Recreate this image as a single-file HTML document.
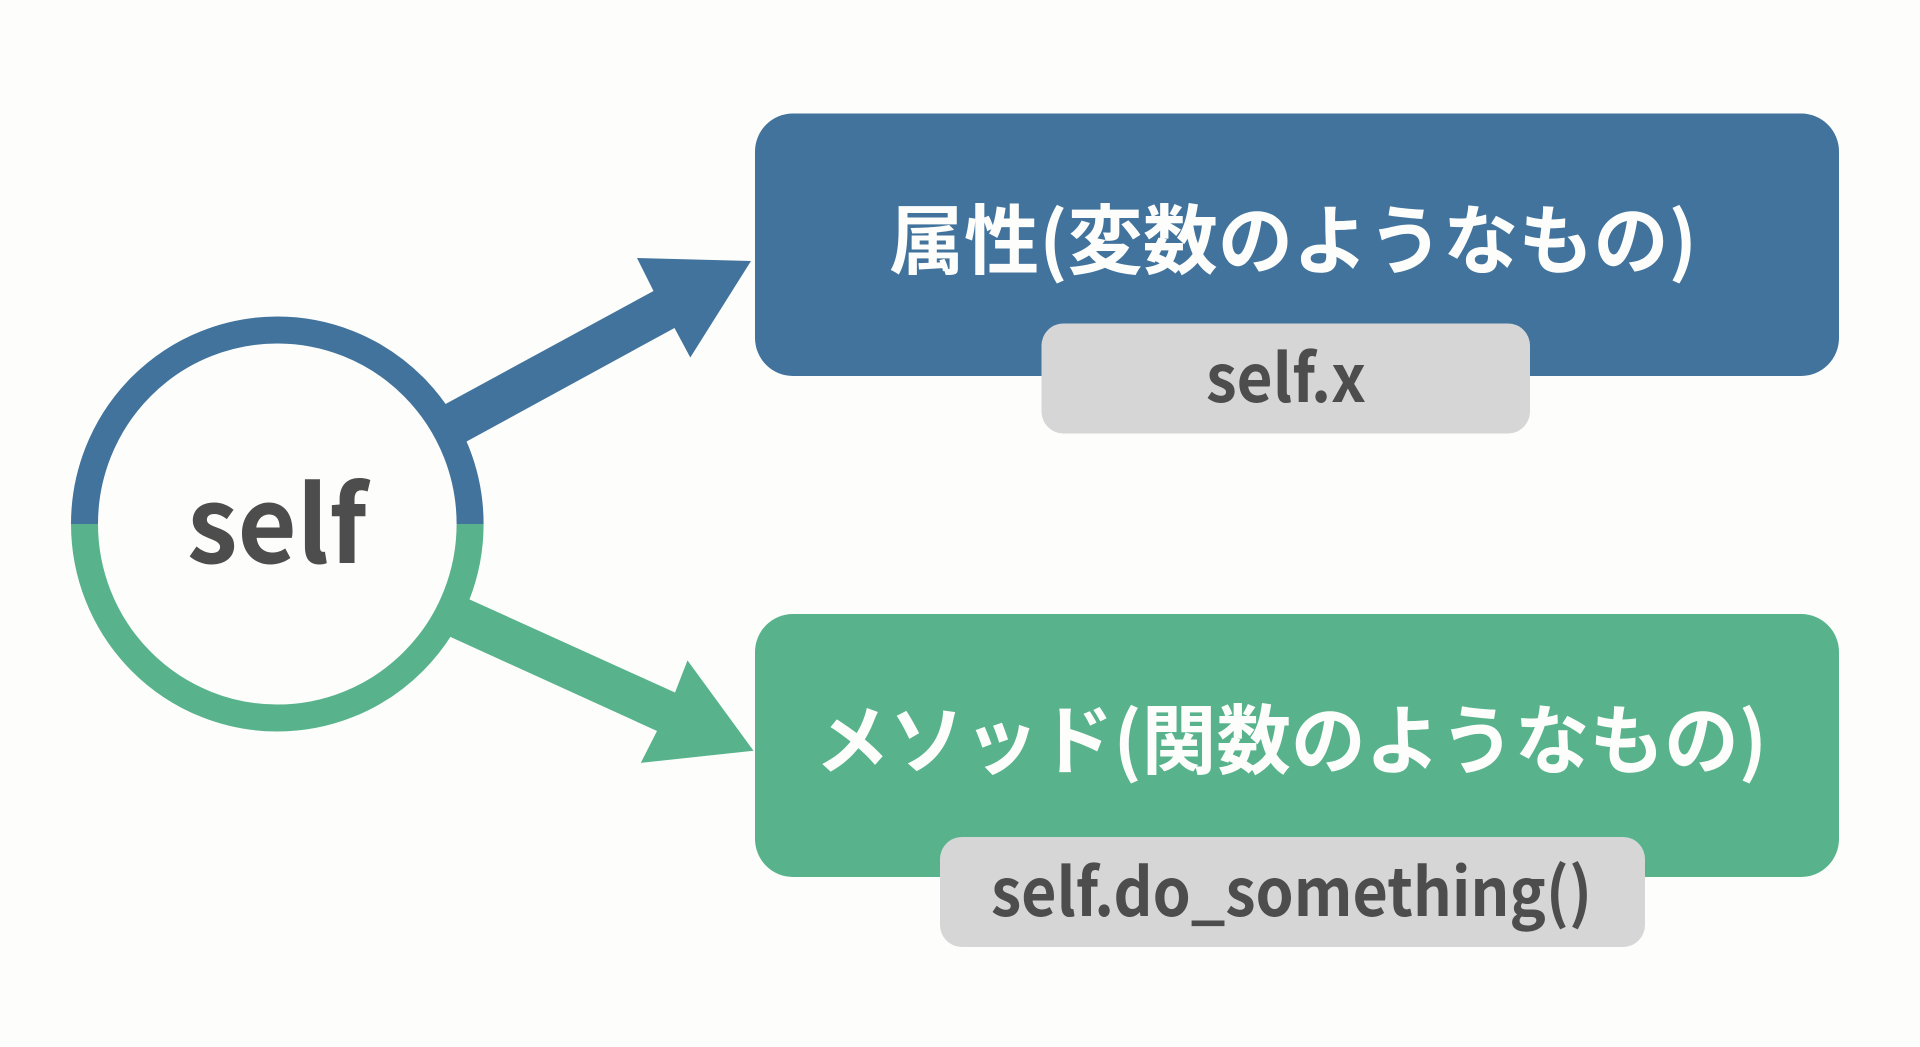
<!DOCTYPE html>
<html lang="ja">
<head>
<meta charset="utf-8">
<title>self</title>
<style>
html,body{margin:0;padding:0;width:1920px;height:1047px;overflow:hidden;background:#fdfefc}
svg{display:block}
text{font-family:"Liberation Sans","Noto Sans CJK JP",sans-serif;font-weight:700}
.l{font-family:"Noto Sans CJK JP","Liberation Sans",sans-serif}
</style>
</head>
<body>
<svg width="1920" height="1047" viewBox="0 0 1920 1047" xmlns="http://www.w3.org/2000/svg">
<rect width="1920" height="1047" fill="#fdfefc"/>
<defs>
<clipPath id="top"><rect x="0" y="0" width="700" height="524"/></clipPath>
<clipPath id="bot"><rect x="0" y="524" width="700" height="400"/></clipPath>
</defs>
<polygon fill="#41739d" points="440,407 653.5,291 637,258 751,261 690.3,357.5 674.5,328 462,444"/>
<polygon fill="#58b38c" points="462,596 675,692.5 687.5,660.4 753.5,750.7 640.8,762.9 657,731 444,634"/>
<ellipse cx="277.3" cy="524" rx="192.8" ry="194" fill="#fdfefc"/>
<ellipse cx="277.3" cy="524" rx="192.8" ry="194" fill="none" stroke="#41739d" stroke-width="27" clip-path="url(#top)"/>
<ellipse cx="277.3" cy="524" rx="192.8" ry="194" fill="none" stroke="#58b38c" stroke-width="27" clip-path="url(#bot)"/>
<text class="l" x="187" y="563" font-size="105" fill="#4d4d4d" textLength="180" lengthAdjust="spacingAndGlyphs">self</text>

<rect x="755" y="113.5" width="1084" height="262.5" rx="38" fill="#41739d"/>
<text class="l" x="889" y="268" font-size="76" fill="#fdfefc" textLength="808" lengthAdjust="spacingAndGlyphs">属性(変数のようなもの)</text>
<rect x="1041.5" y="323.5" width="488.5" height="110" rx="22" fill="#d6d6d6"/>
<text class="l" x="1206" y="402" font-size="66" fill="#4d4d4d" textLength="160" lengthAdjust="spacingAndGlyphs">self.x</text>

<rect x="755" y="614" width="1084" height="263" rx="38" fill="#58b38c"/>
<text class="l" x="815" y="768" font-size="76" fill="#fdfefc" textLength="952" lengthAdjust="spacingAndGlyphs">メソッド(関数のようなもの)</text>
<rect x="940" y="837" width="705" height="110" rx="22" fill="#d6d6d6"/>
<text class="l" x="991" y="916" font-size="66" fill="#4d4d4d" textLength="601" lengthAdjust="spacingAndGlyphs">self.do_something()</text>
</svg>
</body>
</html>
